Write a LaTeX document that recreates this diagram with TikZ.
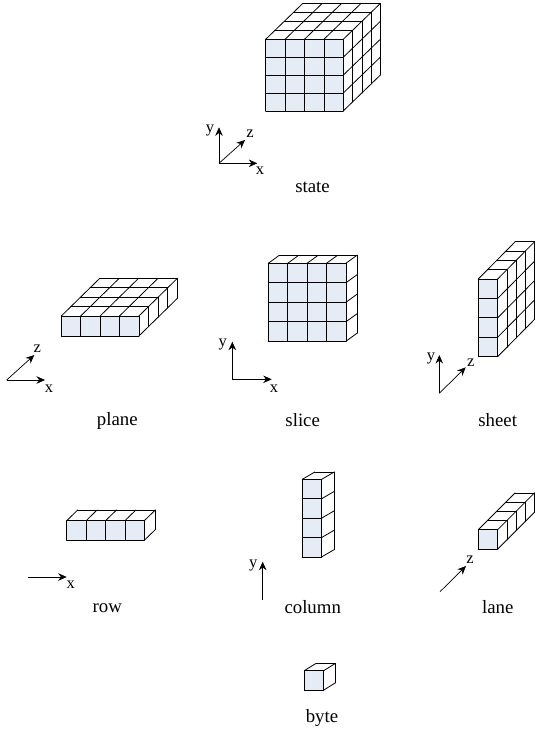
\documentclass[tikz,border=0pt]{standalone}
\usepackage{fontspec}
\setmainfont{Liberation Serif}
\usetikzlibrary{arrows.meta}
\definecolor{cellcolor}{RGB}{230,236,246}
\newcommand{\cw}{19.4}
% x, y of front top left corner; cells along x, y, z; depth step dx, dy; cell height
\newcommand{\cellblock}[8]{
    \pgfmathsetmacro{\fr}{#1+#3*\cw}
    \pgfmathsetmacro{\fb}{#2+#4*#8}
    \pgfmathsetmacro{\bx}{#5*#6}
    \pgfmathsetmacro{\by}{#5*#7}
    % front
    \fill[cellcolor] (#1,#2) rectangle (\fr,\fb);
    \foreach \i in {0,...,#3} \draw[cell] ({#1+\i*\cw},#2) -- ({#1+\i*\cw},\fb);
    \foreach \j in {0,...,#4} \draw[cell] (#1,{#2+\j*#8}) -- (\fr,{#2+\j*#8});
    % top
    \foreach \i in {0,...,#3} \draw[cell] ({#1+\i*\cw},#2) -- ({#1+\i*\cw+\bx},{#2+\by});
    \foreach \k in {1,...,#5} \draw[cell] ({#1+\k*#6},{#2+\k*#7}) -- ({\fr+\k*#6},{#2+\k*#7});
    % side
    \foreach \j in {1,...,#4} \draw[cell] (\fr,{#2+\j*#8}) -- ({\fr+\bx},{#2+\j*#8+\by});
    \foreach \k in {1,...,#5} \draw[cell] ({\fr+\k*#6},{#2+\k*#7}) -- ({\fr+\k*#6},{\fb+\k*#7});
}

\begin{document}
\begin{tikzpicture}[
    x=1pt, y=-1pt,
    cell/.style={line width=0.8pt, line cap=round},
    axis/.style={-{Stealth[length=8.5pt,width=7.5pt]}, line width=0.7pt},
    axlabel/.style={font=\fontsize{16.5}{16.5}\selectfont, inner sep=0pt},
    caption/.style={font=\fontsize{18.8}{20}\selectfont, inner sep=0pt}
]
\useasboundingbox (0,0) rectangle (535,736);

% ===== BLOCKS =====
\cellblock{265.7}{39.3}{4}{4}{4}{9.3}{-9}{17.9}
\cellblock{61.3}{316}{4}{1}{4}{9.6}{-9.4}{20}
\cellblock{268.3}{263.3}{4}{4}{1}{11}{-8}{19.5}
\cellblock{478.3}{279}{1}{4}{4}{9.2}{-9.3}{19.4}
\cellblock{66.7}{520.7}{4}{1}{1}{11}{-10.7}{19.6}
\cellblock{302.3}{479.3}{1}{4}{1}{12.5}{-7.3}{19.4}
\cellblock{478.3}{529.7}{1}{1}{4}{9.2}{-9.2}{19.4}
\cellblock{304.3}{670.7}{1}{1}{1}{11.7}{-7.3}{19.4}

% ===== AXES - STATE =====
\coordinate (stateo) at (219,163.3);
\coordinate (statey) at (219,127.3);
\coordinate (statex) at (257.3,163.3);
\coordinate (statez) at (245,140);
\draw[axis] (stateo) -- (statey);
\draw[axis] (stateo) -- (statex);
\draw[axis] (stateo) -- (statez);
\node[axlabel] (statelaby) at (210,130) {y};
\node[axlabel] (statelabz) at (250,134) {z};
\node[axlabel] (statelabx) at (260,171) {x};

% ===== AXES - PLANE =====
\coordinate (planeo) at (6.7,380);
\coordinate (planex) at (45,380);
\coordinate (planez) at (34.3,355);
\draw[axis] (planeo) -- (planex);
\draw[axis] (planeo) -- (planez);
\node[axlabel] (planelabz) at (37.3,348.3) {z};
\node[axlabel] (planelabx) at (49,388.3) {x};

% ===== AXES - SLICE =====
\coordinate (sliceo) at (232.3,379.3);
\coordinate (slicey) at (232.3,341.7);
\coordinate (slicex) at (271.7,379.3);
\draw[axis] (sliceo) -- (slicey);
\draw[axis] (sliceo) -- (slicex);
\node[axlabel] (slicelaby) at (222.7,344) {y};
\node[axlabel] (slicelabx) at (274,389) {x};

% ===== AXES - SHEET =====
\coordinate (sheeto) at (439.3,393.3);
\coordinate (sheety) at (439.3,355);
\coordinate (sheetz) at (465.7,367.3);
\draw[axis] (sheeto) -- (sheety);
\draw[axis] (sheeto) -- (sheetz);
\node[axlabel] (sheetlaby) at (431,358.3) {y};
\node[axlabel] (sheetlabz) at (470.7,362.3) {z};

% ===== AXES - ROW, COLUMN, LANE =====
\coordinate (rowo) at (27.7,577);
\coordinate (rowx) at (66.7,577);
\draw[axis] (rowo) -- (rowx);
\node[axlabel] (rowlabx) at (70.7,585) {x};
\coordinate (columno) at (262.7,600);
\coordinate (columny) at (262.7,561.7);
\draw[axis] (columno) -- (columny);
\node[axlabel] (columnlaby) at (253.3,565) {y};
\coordinate (laneo) at (440,591.7);
\coordinate (lanez) at (466,566);
\draw[axis] (laneo) -- (lanez);
\node[axlabel] (lanelabz) at (470,560) {z};

% ===== CAPTIONS =====
\node[caption] (state) at (312.5,187) {state};
\node[caption] (plane) at (117.3,421) {plane};
\node[caption] (slice) at (302.7,420) {slice};
\node[caption] (sheet) at (497.7,420) {sheet};
\node[caption] (row) at (107.3,608) {row};
\node[caption] (column) at (312.7,607) {column};
\node[caption] (lane) at (497.7,607) {lane};
\node[caption] (byte) at (322,718) {byte};

\end{tikzpicture}
\end{document}
